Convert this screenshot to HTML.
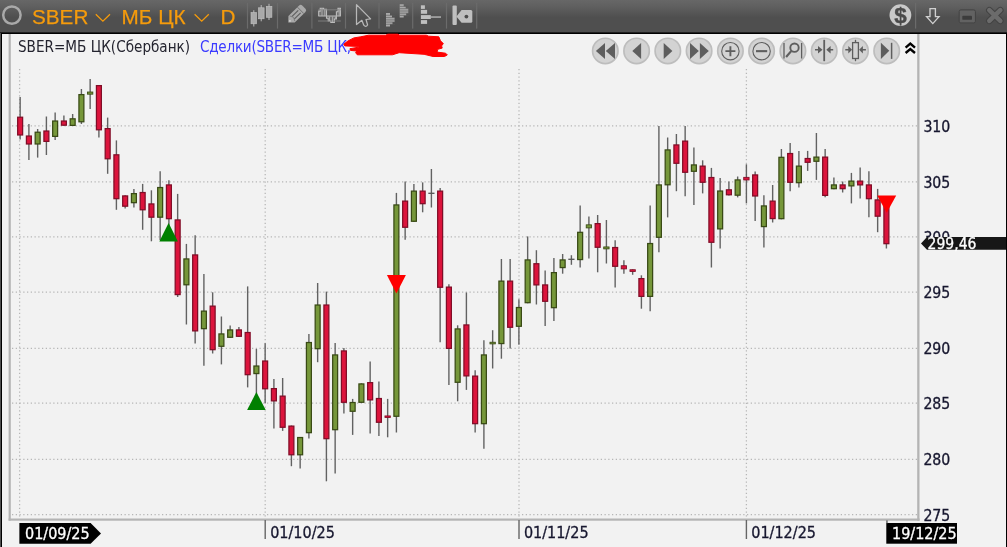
<!DOCTYPE html>
<html><head><meta charset="utf-8"><title>SBER</title>
<style>
html,body{margin:0;padding:0;background:#f2f2f2;}
body{width:1007px;height:547px;position:relative;overflow:hidden;font-family:"Liberation Sans",sans-serif;}
#bar{position:absolute;left:0;top:0;width:1007px;height:33.7px;background:linear-gradient(to bottom,#676767 0px,#5f5f5f 7px,#565656 13px,#4f4f4f 17.5px,#4f4f4f 31.9px,#2a2a2a 32.4px,#000 32.8px,#000 33.7px);}
#lb{position:absolute;left:0;top:32.8px;width:1.9px;height:515px;background:linear-gradient(to right,#4f4f4f 0px,#4f4f4f 0.8px,#000 0.9px,#000 1.9px);}
#rb{position:absolute;left:1006px;top:33px;width:1px;height:514px;background:#000;}
.t{position:absolute;white-space:nowrap;line-height:1;}
.o{-webkit-text-stroke:0.25px #f59b0c;color:#f59b0c;font-size:20.7px;top:6.5px;}
.s{font-family:"DejaVu Sans Condensed","DejaVu Sans","Liberation Sans",sans-serif;font-stretch:condensed;font-size:15.1px;top:39.5px;}
svg{position:absolute;left:0;top:0;}
</style></head><body>
<div id="bar"></div>
<svg width="1007" height="547" viewBox="0 0 1007 547">
<line x1="12" y1="125.90" x2="917" y2="125.90" stroke="#b6b6b6" stroke-width="1.25" stroke-dasharray="1.25 2.5"/>
<line x1="12" y1="181.90" x2="917" y2="181.90" stroke="#b6b6b6" stroke-width="1.25" stroke-dasharray="1.25 2.5"/>
<line x1="12" y1="236.90" x2="917" y2="236.90" stroke="#b6b6b6" stroke-width="1.25" stroke-dasharray="1.25 2.5"/>
<line x1="12" y1="292.00" x2="917" y2="292.00" stroke="#b6b6b6" stroke-width="1.25" stroke-dasharray="1.25 2.5"/>
<line x1="12" y1="348.40" x2="917" y2="348.40" stroke="#b6b6b6" stroke-width="1.25" stroke-dasharray="1.25 2.5"/>
<line x1="12" y1="403.20" x2="917" y2="403.20" stroke="#b6b6b6" stroke-width="1.25" stroke-dasharray="1.25 2.5"/>
<line x1="12" y1="459.40" x2="917" y2="459.40" stroke="#b6b6b6" stroke-width="1.25" stroke-dasharray="1.25 2.5"/>
<line x1="12" y1="514.60" x2="917" y2="514.60" stroke="#b6b6b6" stroke-width="1.25" stroke-dasharray="1.25 2.5"/>
<line x1="19.60" y1="69" x2="19.60" y2="519" stroke="#b6b6b6" stroke-width="1.25" stroke-dasharray="1.25 2.5"/>
<line x1="265.20" y1="69" x2="265.20" y2="519" stroke="#b6b6b6" stroke-width="1.25" stroke-dasharray="1.25 2.5"/>
<line x1="519.00" y1="69" x2="519.00" y2="519" stroke="#b6b6b6" stroke-width="1.25" stroke-dasharray="1.25 2.5"/>
<line x1="746.40" y1="69" x2="746.40" y2="519" stroke="#b6b6b6" stroke-width="1.25" stroke-dasharray="1.25 2.5"/>
<line x1="20.15" y1="97.0" x2="20.15" y2="139.6" stroke="#626262" stroke-width="1.4"/>
<rect x="17.67" y="117.22" width="4.95" height="17.75" fill="#dc143c" stroke="#800d27" stroke-width="1.25"/>
<line x1="28.90" y1="124.0" x2="28.90" y2="160.0" stroke="#626262" stroke-width="1.4"/>
<rect x="26.42" y="136.03" width="4.95" height="7.95" fill="#dc143c" stroke="#800d27" stroke-width="1.25"/>
<line x1="37.65" y1="129.0" x2="37.65" y2="157.6" stroke="#626262" stroke-width="1.4"/>
<rect x="35.17" y="132.22" width="4.95" height="11.75" fill="#76973a" stroke="#394a15" stroke-width="1.25"/>
<line x1="46.40" y1="116.5" x2="46.40" y2="155.0" stroke="#626262" stroke-width="1.4"/>
<rect x="43.92" y="131.03" width="4.95" height="10.35" fill="#dc143c" stroke="#800d27" stroke-width="1.25"/>
<line x1="55.15" y1="112.6" x2="55.15" y2="140.0" stroke="#626262" stroke-width="1.4"/>
<rect x="52.67" y="121.03" width="4.95" height="15.35" fill="#76973a" stroke="#394a15" stroke-width="1.25"/>
<line x1="63.90" y1="115.4" x2="63.90" y2="125.8" stroke="#626262" stroke-width="1.4"/>
<rect x="61.42" y="121.03" width="4.95" height="4.15" fill="#dc143c" stroke="#800d27" stroke-width="1.25"/>
<line x1="72.65" y1="114.0" x2="72.65" y2="126.0" stroke="#626262" stroke-width="1.4"/>
<rect x="70.18" y="118.83" width="4.95" height="6.55" fill="#76973a" stroke="#394a15" stroke-width="1.25"/>
<line x1="81.40" y1="89.0" x2="81.40" y2="124.0" stroke="#626262" stroke-width="1.4"/>
<rect x="78.93" y="94.62" width="4.95" height="27.15" fill="#76973a" stroke="#394a15" stroke-width="1.25"/>
<line x1="90.15" y1="79.0" x2="90.15" y2="109.0" stroke="#626262" stroke-width="1.4"/>
<rect x="87.48" y="92.02" width="5.35" height="2.15" fill="#76973a" stroke="#394a15" stroke-width="0.85"/>
<line x1="98.90" y1="85.0" x2="98.90" y2="137.6" stroke="#626262" stroke-width="1.4"/>
<rect x="96.43" y="85.62" width="4.95" height="44.15" fill="#dc143c" stroke="#800d27" stroke-width="1.25"/>
<line x1="107.65" y1="117.6" x2="107.65" y2="173.8" stroke="#626262" stroke-width="1.4"/>
<rect x="105.18" y="128.62" width="4.95" height="30.15" fill="#dc143c" stroke="#800d27" stroke-width="1.25"/>
<line x1="116.40" y1="140.4" x2="116.40" y2="209.8" stroke="#626262" stroke-width="1.4"/>
<rect x="113.93" y="154.82" width="4.95" height="43.85" fill="#dc143c" stroke="#800d27" stroke-width="1.25"/>
<line x1="125.15" y1="195.3" x2="125.15" y2="208.4" stroke="#626262" stroke-width="1.4"/>
<rect x="122.68" y="195.93" width="4.95" height="10.25" fill="#dc143c" stroke="#800d27" stroke-width="1.25"/>
<line x1="133.90" y1="188.9" x2="133.90" y2="207.4" stroke="#626262" stroke-width="1.4"/>
<rect x="131.43" y="193.62" width="4.95" height="9.05" fill="#76973a" stroke="#394a15" stroke-width="1.25"/>
<line x1="142.65" y1="183.9" x2="142.65" y2="229.8" stroke="#626262" stroke-width="1.4"/>
<rect x="140.18" y="192.53" width="4.95" height="17.25" fill="#dc143c" stroke="#800d27" stroke-width="1.25"/>
<line x1="151.40" y1="190.3" x2="151.40" y2="241.3" stroke="#626262" stroke-width="1.4"/>
<rect x="148.93" y="203.93" width="4.95" height="13.25" fill="#dc143c" stroke="#800d27" stroke-width="1.25"/>
<line x1="160.15" y1="171.3" x2="160.15" y2="240.0" stroke="#626262" stroke-width="1.4"/>
<rect x="157.68" y="187.53" width="4.95" height="29.65" fill="#76973a" stroke="#394a15" stroke-width="1.25"/>
<line x1="168.90" y1="180.3" x2="168.90" y2="226.0" stroke="#626262" stroke-width="1.4"/>
<rect x="166.43" y="184.93" width="4.95" height="33.75" fill="#dc143c" stroke="#800d27" stroke-width="1.25"/>
<line x1="177.65" y1="193.9" x2="177.65" y2="297.0" stroke="#626262" stroke-width="1.4"/>
<rect x="175.18" y="219.93" width="4.95" height="74.65" fill="#dc143c" stroke="#800d27" stroke-width="1.25"/>
<line x1="186.40" y1="243.9" x2="186.40" y2="324.5" stroke="#626262" stroke-width="1.4"/>
<rect x="183.93" y="258.93" width="4.95" height="25.85" fill="#76973a" stroke="#394a15" stroke-width="1.25"/>
<line x1="195.15" y1="235.3" x2="195.15" y2="343.5" stroke="#626262" stroke-width="1.4"/>
<rect x="192.68" y="254.93" width="4.95" height="75.95" fill="#dc143c" stroke="#800d27" stroke-width="1.25"/>
<line x1="203.90" y1="273.9" x2="203.90" y2="365.8" stroke="#626262" stroke-width="1.4"/>
<rect x="201.43" y="311.12" width="4.95" height="17.55" fill="#76973a" stroke="#394a15" stroke-width="1.25"/>
<line x1="212.65" y1="292.3" x2="212.65" y2="353.5" stroke="#626262" stroke-width="1.4"/>
<rect x="210.18" y="306.12" width="4.95" height="43.55" fill="#dc143c" stroke="#800d27" stroke-width="1.25"/>
<line x1="221.40" y1="316.5" x2="221.40" y2="364.4" stroke="#626262" stroke-width="1.4"/>
<rect x="218.93" y="333.93" width="4.95" height="12.35" fill="#76973a" stroke="#394a15" stroke-width="1.25"/>
<line x1="230.15" y1="325.5" x2="230.15" y2="337.9" stroke="#626262" stroke-width="1.4"/>
<rect x="227.68" y="329.93" width="4.95" height="7.35" fill="#76973a" stroke="#394a15" stroke-width="1.25"/>
<line x1="238.90" y1="326.9" x2="238.90" y2="336.9" stroke="#626262" stroke-width="1.4"/>
<rect x="236.43" y="329.93" width="4.95" height="6.35" fill="#dc143c" stroke="#800d27" stroke-width="1.25"/>
<line x1="247.65" y1="286.4" x2="247.65" y2="387.4" stroke="#626262" stroke-width="1.4"/>
<rect x="245.18" y="332.52" width="4.95" height="42.15" fill="#dc143c" stroke="#800d27" stroke-width="1.25"/>
<line x1="256.40" y1="348.9" x2="256.40" y2="395.0" stroke="#626262" stroke-width="1.4"/>
<rect x="253.92" y="366.02" width="4.95" height="7.55" fill="#76973a" stroke="#394a15" stroke-width="1.25"/>
<line x1="265.15" y1="343.3" x2="265.15" y2="403.0" stroke="#626262" stroke-width="1.4"/>
<rect x="262.67" y="361.02" width="4.95" height="27.75" fill="#dc143c" stroke="#800d27" stroke-width="1.25"/>
<line x1="273.90" y1="379.0" x2="273.90" y2="428.5" stroke="#626262" stroke-width="1.4"/>
<rect x="271.42" y="388.62" width="4.95" height="12.25" fill="#dc143c" stroke="#800d27" stroke-width="1.25"/>
<line x1="282.65" y1="378.0" x2="282.65" y2="430.9" stroke="#626262" stroke-width="1.4"/>
<rect x="280.17" y="396.12" width="4.95" height="31.15" fill="#dc143c" stroke="#800d27" stroke-width="1.25"/>
<line x1="291.40" y1="425.5" x2="291.40" y2="466.2" stroke="#626262" stroke-width="1.4"/>
<rect x="288.92" y="426.12" width="4.95" height="28.65" fill="#dc143c" stroke="#800d27" stroke-width="1.25"/>
<line x1="300.15" y1="436.9" x2="300.15" y2="468.6" stroke="#626262" stroke-width="1.4"/>
<rect x="297.67" y="437.52" width="4.95" height="17.25" fill="#76973a" stroke="#394a15" stroke-width="1.25"/>
<line x1="308.90" y1="333.9" x2="308.90" y2="438.5" stroke="#626262" stroke-width="1.4"/>
<rect x="306.42" y="342.52" width="4.95" height="90.15" fill="#76973a" stroke="#394a15" stroke-width="1.25"/>
<line x1="317.65" y1="283.0" x2="317.65" y2="362.2" stroke="#626262" stroke-width="1.4"/>
<rect x="315.17" y="305.02" width="4.95" height="43.65" fill="#76973a" stroke="#394a15" stroke-width="1.25"/>
<line x1="326.40" y1="291.6" x2="326.40" y2="481.3" stroke="#626262" stroke-width="1.4"/>
<rect x="323.92" y="305.02" width="4.95" height="133.65" fill="#dc143c" stroke="#800d27" stroke-width="1.25"/>
<line x1="335.15" y1="342.9" x2="335.15" y2="473.6" stroke="#626262" stroke-width="1.4"/>
<rect x="332.67" y="354.93" width="4.95" height="74.75" fill="#76973a" stroke="#394a15" stroke-width="1.25"/>
<line x1="343.90" y1="347.9" x2="343.90" y2="413.5" stroke="#626262" stroke-width="1.4"/>
<rect x="341.42" y="350.93" width="4.95" height="51.35" fill="#dc143c" stroke="#800d27" stroke-width="1.25"/>
<line x1="352.65" y1="398.9" x2="352.65" y2="434.9" stroke="#626262" stroke-width="1.4"/>
<rect x="350.17" y="402.52" width="4.95" height="8.75" fill="#76973a" stroke="#394a15" stroke-width="1.25"/>
<line x1="361.40" y1="383.3" x2="361.40" y2="402.9" stroke="#626262" stroke-width="1.4"/>
<rect x="358.92" y="383.93" width="4.95" height="18.35" fill="#76973a" stroke="#394a15" stroke-width="1.25"/>
<line x1="370.15" y1="361.4" x2="370.15" y2="433.5" stroke="#626262" stroke-width="1.4"/>
<rect x="367.67" y="382.62" width="4.95" height="17.25" fill="#dc143c" stroke="#800d27" stroke-width="1.25"/>
<line x1="378.90" y1="381.4" x2="378.90" y2="435.9" stroke="#626262" stroke-width="1.4"/>
<rect x="376.42" y="398.52" width="4.95" height="23.75" fill="#dc143c" stroke="#800d27" stroke-width="1.25"/>
<line x1="387.65" y1="398.9" x2="387.65" y2="437.3" stroke="#626262" stroke-width="1.4"/>
<rect x="384.97" y="415.93" width="5.35" height="1.55" fill="#dc143c" stroke="#800d27" stroke-width="0.85"/>
<line x1="396.40" y1="192.9" x2="396.40" y2="432.5" stroke="#626262" stroke-width="1.4"/>
<rect x="393.92" y="204.93" width="4.95" height="211.35" fill="#76973a" stroke="#394a15" stroke-width="1.25"/>
<line x1="405.15" y1="181.6" x2="405.15" y2="239.8" stroke="#626262" stroke-width="1.4"/>
<rect x="402.67" y="201.12" width="4.95" height="26.15" fill="#dc143c" stroke="#800d27" stroke-width="1.25"/>
<line x1="413.90" y1="184.0" x2="413.90" y2="221.9" stroke="#626262" stroke-width="1.4"/>
<rect x="411.42" y="191.12" width="4.95" height="30.15" fill="#76973a" stroke="#394a15" stroke-width="1.25"/>
<line x1="422.65" y1="182.4" x2="422.65" y2="212.3" stroke="#626262" stroke-width="1.4"/>
<rect x="420.17" y="191.12" width="4.95" height="12.55" fill="#dc143c" stroke="#800d27" stroke-width="1.25"/>
<line x1="431.40" y1="169.0" x2="431.40" y2="207.5" stroke="#626262" stroke-width="1.4"/>
<line x1="428.30" y1="193.3" x2="434.50" y2="193.3" stroke="#555" stroke-width="1.3"/>
<line x1="440.15" y1="188.0" x2="440.15" y2="342.2" stroke="#626262" stroke-width="1.4"/>
<rect x="437.67" y="191.12" width="4.95" height="96.15" fill="#dc143c" stroke="#800d27" stroke-width="1.25"/>
<line x1="448.90" y1="284.3" x2="448.90" y2="384.9" stroke="#626262" stroke-width="1.4"/>
<rect x="446.42" y="287.12" width="4.95" height="61.25" fill="#dc143c" stroke="#800d27" stroke-width="1.25"/>
<line x1="457.65" y1="325.3" x2="457.65" y2="401.3" stroke="#626262" stroke-width="1.4"/>
<rect x="455.17" y="328.93" width="4.95" height="53.35" fill="#76973a" stroke="#394a15" stroke-width="1.25"/>
<line x1="466.40" y1="292.5" x2="466.40" y2="389.9" stroke="#626262" stroke-width="1.4"/>
<rect x="463.92" y="324.93" width="4.95" height="50.95" fill="#dc143c" stroke="#800d27" stroke-width="1.25"/>
<line x1="475.15" y1="370.3" x2="475.15" y2="432.6" stroke="#626262" stroke-width="1.4"/>
<rect x="472.67" y="376.12" width="4.95" height="47.55" fill="#dc143c" stroke="#800d27" stroke-width="1.25"/>
<line x1="483.90" y1="340.2" x2="483.90" y2="448.8" stroke="#626262" stroke-width="1.4"/>
<rect x="481.42" y="354.93" width="4.95" height="68.75" fill="#76973a" stroke="#394a15" stroke-width="1.25"/>
<line x1="492.65" y1="330.2" x2="492.65" y2="368.5" stroke="#626262" stroke-width="1.4"/>
<rect x="489.97" y="342.23" width="5.35" height="1.65" fill="#76973a" stroke="#394a15" stroke-width="0.85"/>
<line x1="501.40" y1="259.0" x2="501.40" y2="358.7" stroke="#626262" stroke-width="1.4"/>
<rect x="498.92" y="281.12" width="4.95" height="62.45" fill="#76973a" stroke="#394a15" stroke-width="1.25"/>
<line x1="510.15" y1="259.0" x2="510.15" y2="348.4" stroke="#626262" stroke-width="1.4"/>
<rect x="507.67" y="281.12" width="4.95" height="46.15" fill="#dc143c" stroke="#800d27" stroke-width="1.25"/>
<line x1="518.90" y1="299.3" x2="518.90" y2="344.8" stroke="#626262" stroke-width="1.4"/>
<rect x="516.42" y="307.52" width="4.95" height="18.75" fill="#76973a" stroke="#394a15" stroke-width="1.25"/>
<line x1="527.65" y1="236.4" x2="527.65" y2="303.3" stroke="#626262" stroke-width="1.4"/>
<rect x="525.17" y="259.93" width="4.95" height="42.75" fill="#76973a" stroke="#394a15" stroke-width="1.25"/>
<line x1="536.40" y1="250.2" x2="536.40" y2="304.5" stroke="#626262" stroke-width="1.4"/>
<rect x="533.92" y="263.73" width="4.95" height="21.15" fill="#dc143c" stroke="#800d27" stroke-width="1.25"/>
<line x1="545.15" y1="270.4" x2="545.15" y2="325.9" stroke="#626262" stroke-width="1.4"/>
<rect x="542.67" y="284.93" width="4.95" height="16.35" fill="#dc143c" stroke="#800d27" stroke-width="1.25"/>
<line x1="553.90" y1="257.9" x2="553.90" y2="320.9" stroke="#626262" stroke-width="1.4"/>
<rect x="551.42" y="272.62" width="4.95" height="35.05" fill="#76973a" stroke="#394a15" stroke-width="1.25"/>
<line x1="562.65" y1="254.0" x2="562.65" y2="273.7" stroke="#626262" stroke-width="1.4"/>
<rect x="560.17" y="259.93" width="4.95" height="7.65" fill="#76973a" stroke="#394a15" stroke-width="1.25"/>
<line x1="571.40" y1="255.2" x2="571.40" y2="264.8" stroke="#626262" stroke-width="1.4"/>
<line x1="568.30" y1="259.3" x2="574.50" y2="259.3" stroke="#555" stroke-width="1.3"/>
<line x1="580.15" y1="205.4" x2="580.15" y2="267.5" stroke="#626262" stroke-width="1.4"/>
<rect x="577.67" y="232.32" width="4.95" height="27.25" fill="#76973a" stroke="#394a15" stroke-width="1.25"/>
<line x1="588.90" y1="216.4" x2="588.90" y2="258.5" stroke="#626262" stroke-width="1.4"/>
<rect x="586.22" y="224.83" width="5.35" height="3.05" fill="#76973a" stroke="#394a15" stroke-width="0.85"/>
<line x1="597.65" y1="215.0" x2="597.65" y2="272.3" stroke="#626262" stroke-width="1.4"/>
<rect x="595.17" y="223.62" width="4.95" height="23.65" fill="#dc143c" stroke="#800d27" stroke-width="1.25"/>
<line x1="606.40" y1="220.0" x2="606.40" y2="263.5" stroke="#626262" stroke-width="1.4"/>
<rect x="603.72" y="246.93" width="5.35" height="1.95" fill="#76973a" stroke="#394a15" stroke-width="0.85"/>
<line x1="615.15" y1="240.3" x2="615.15" y2="287.5" stroke="#626262" stroke-width="1.4"/>
<rect x="612.67" y="247.53" width="4.95" height="18.75" fill="#dc143c" stroke="#800d27" stroke-width="1.25"/>
<line x1="623.90" y1="260.3" x2="623.90" y2="273.7" stroke="#626262" stroke-width="1.4"/>
<rect x="621.22" y="265.73" width="5.35" height="3.15" fill="#dc143c" stroke="#800d27" stroke-width="0.85"/>
<line x1="632.65" y1="269.3" x2="632.65" y2="274.8" stroke="#626262" stroke-width="1.4"/>
<rect x="629.97" y="269.73" width="5.35" height="1.75" fill="#dc143c" stroke="#800d27" stroke-width="0.85"/>
<line x1="641.40" y1="275.3" x2="641.40" y2="308.7" stroke="#626262" stroke-width="1.4"/>
<rect x="638.92" y="278.62" width="4.95" height="17.75" fill="#dc143c" stroke="#800d27" stroke-width="1.25"/>
<line x1="650.15" y1="205.4" x2="650.15" y2="311.2" stroke="#626262" stroke-width="1.4"/>
<rect x="647.67" y="243.53" width="4.95" height="52.85" fill="#76973a" stroke="#394a15" stroke-width="1.25"/>
<line x1="658.90" y1="126.0" x2="658.90" y2="252.3" stroke="#626262" stroke-width="1.4"/>
<rect x="656.42" y="184.93" width="4.95" height="52.35" fill="#76973a" stroke="#394a15" stroke-width="1.25"/>
<line x1="667.65" y1="137.5" x2="667.65" y2="217.4" stroke="#626262" stroke-width="1.4"/>
<rect x="665.17" y="149.93" width="4.95" height="34.85" fill="#76973a" stroke="#394a15" stroke-width="1.25"/>
<line x1="676.40" y1="134.0" x2="676.40" y2="191.2" stroke="#626262" stroke-width="1.4"/>
<rect x="673.92" y="144.93" width="4.95" height="18.35" fill="#dc143c" stroke="#800d27" stroke-width="1.25"/>
<line x1="685.15" y1="126.0" x2="685.15" y2="196.2" stroke="#626262" stroke-width="1.4"/>
<rect x="682.67" y="141.12" width="4.95" height="31.15" fill="#dc143c" stroke="#800d27" stroke-width="1.25"/>
<line x1="693.90" y1="147.5" x2="693.90" y2="204.9" stroke="#626262" stroke-width="1.4"/>
<rect x="691.42" y="164.93" width="4.95" height="6.35" fill="#76973a" stroke="#394a15" stroke-width="1.25"/>
<line x1="702.65" y1="160.3" x2="702.65" y2="193.4" stroke="#626262" stroke-width="1.4"/>
<rect x="700.17" y="166.12" width="4.95" height="16.15" fill="#dc143c" stroke="#800d27" stroke-width="1.25"/>
<line x1="711.40" y1="167.9" x2="711.40" y2="267.5" stroke="#626262" stroke-width="1.4"/>
<rect x="708.92" y="177.53" width="4.95" height="64.75" fill="#dc143c" stroke="#800d27" stroke-width="1.25"/>
<line x1="720.15" y1="177.9" x2="720.15" y2="248.5" stroke="#626262" stroke-width="1.4"/>
<rect x="717.67" y="191.03" width="4.95" height="37.85" fill="#76973a" stroke="#394a15" stroke-width="1.25"/>
<line x1="728.90" y1="181.5" x2="728.90" y2="195.4" stroke="#626262" stroke-width="1.4"/>
<rect x="726.42" y="189.82" width="4.95" height="4.95" fill="#dc143c" stroke="#800d27" stroke-width="1.25"/>
<line x1="737.65" y1="176.5" x2="737.65" y2="197.4" stroke="#626262" stroke-width="1.4"/>
<rect x="735.17" y="179.93" width="4.95" height="15.25" fill="#76973a" stroke="#394a15" stroke-width="1.25"/>
<line x1="746.40" y1="164.3" x2="746.40" y2="203.4" stroke="#626262" stroke-width="1.4"/>
<rect x="743.72" y="177.33" width="5.35" height="2.65" fill="#dc143c" stroke="#800d27" stroke-width="0.85"/>
<line x1="755.15" y1="171.4" x2="755.15" y2="221.1" stroke="#626262" stroke-width="1.4"/>
<rect x="752.67" y="174.93" width="4.95" height="21.05" fill="#dc143c" stroke="#800d27" stroke-width="1.25"/>
<line x1="763.90" y1="195.3" x2="763.90" y2="247.4" stroke="#626262" stroke-width="1.4"/>
<rect x="761.42" y="205.93" width="4.95" height="20.65" fill="#76973a" stroke="#394a15" stroke-width="1.25"/>
<line x1="772.65" y1="185.0" x2="772.65" y2="222.5" stroke="#626262" stroke-width="1.4"/>
<rect x="770.17" y="201.12" width="4.95" height="17.45" fill="#dc143c" stroke="#800d27" stroke-width="1.25"/>
<line x1="781.40" y1="149.0" x2="781.40" y2="219.3" stroke="#626262" stroke-width="1.4"/>
<rect x="778.92" y="157.32" width="4.95" height="61.35" fill="#76973a" stroke="#394a15" stroke-width="1.25"/>
<line x1="790.15" y1="143.0" x2="790.15" y2="191.3" stroke="#626262" stroke-width="1.4"/>
<rect x="787.67" y="153.53" width="4.95" height="28.75" fill="#dc143c" stroke="#800d27" stroke-width="1.25"/>
<line x1="798.90" y1="151.0" x2="798.90" y2="187.5" stroke="#626262" stroke-width="1.4"/>
<rect x="796.42" y="166.12" width="4.95" height="16.55" fill="#76973a" stroke="#394a15" stroke-width="1.25"/>
<line x1="807.65" y1="150.9" x2="807.65" y2="170.9" stroke="#626262" stroke-width="1.4"/>
<rect x="805.17" y="158.53" width="4.95" height="3.75" fill="#dc143c" stroke="#800d27" stroke-width="1.25"/>
<line x1="816.40" y1="133.0" x2="816.40" y2="179.9" stroke="#626262" stroke-width="1.4"/>
<rect x="813.92" y="157.12" width="4.95" height="4.15" fill="#76973a" stroke="#394a15" stroke-width="1.25"/>
<line x1="825.15" y1="149.0" x2="825.15" y2="197.3" stroke="#626262" stroke-width="1.4"/>
<rect x="822.67" y="157.12" width="4.95" height="38.25" fill="#dc143c" stroke="#800d27" stroke-width="1.25"/>
<line x1="833.90" y1="177.5" x2="833.90" y2="189.3" stroke="#626262" stroke-width="1.4"/>
<rect x="831.42" y="184.93" width="4.95" height="3.75" fill="#76973a" stroke="#394a15" stroke-width="1.25"/>
<line x1="842.65" y1="181.5" x2="842.65" y2="192.5" stroke="#626262" stroke-width="1.4"/>
<rect x="840.17" y="184.93" width="4.95" height="3.75" fill="#dc143c" stroke="#800d27" stroke-width="1.25"/>
<line x1="851.40" y1="172.9" x2="851.40" y2="203.4" stroke="#626262" stroke-width="1.4"/>
<rect x="848.92" y="181.12" width="4.95" height="4.75" fill="#76973a" stroke="#394a15" stroke-width="1.25"/>
<line x1="860.15" y1="167.5" x2="860.15" y2="198.5" stroke="#626262" stroke-width="1.4"/>
<rect x="857.67" y="181.12" width="4.95" height="3.75" fill="#dc143c" stroke="#800d27" stroke-width="1.25"/>
<line x1="868.90" y1="171.3" x2="868.90" y2="217.2" stroke="#626262" stroke-width="1.4"/>
<rect x="866.42" y="184.93" width="4.95" height="13.75" fill="#dc143c" stroke="#800d27" stroke-width="1.25"/>
<line x1="877.65" y1="188.9" x2="877.65" y2="232.2" stroke="#626262" stroke-width="1.4"/>
<rect x="875.17" y="199.93" width="4.95" height="16.25" fill="#dc143c" stroke="#800d27" stroke-width="1.25"/>
<line x1="886.40" y1="196.0" x2="886.40" y2="248.5" stroke="#626262" stroke-width="1.4"/>
<rect x="883.92" y="205.62" width="4.95" height="38.05" fill="#dc143c" stroke="#800d27" stroke-width="1.25"/>
<polygon points="168.6,223.0 159.3,241.4 177.9,241.4" fill="#008000"/>
<polygon points="256.4,392.0 247.1,410.0 265.7,410.0" fill="#008000"/>
<polygon points="386.9,275.0 405.9,275.0 396.4,293.6" fill="#ff0000"/>
<polygon points="877.2,195.5 896.2,195.5 886.7,212.8" fill="#ff0000"/>
<rect x="8.6" y="34" width="2.2" height="486.6" fill="#b4b4b4"/>
<rect x="8.6" y="518.5" width="911" height="2.2" fill="#b4b4b4"/>
<rect x="917.2" y="34" width="2.3" height="486.6" fill="#b4b4b4"/>
<rect x="264.50" y="520" width="1.4" height="19" fill="#666"/>
<rect x="518.30" y="520" width="1.4" height="19" fill="#666"/>
<rect x="745.70" y="520" width="1.4" height="19" fill="#666"/>
<text x="270.2" y="538" font-family="DejaVu Sans Condensed, DejaVu Sans, Liberation Sans, sans-serif" font-stretch="condensed" stroke-width="0.3" font-size="16" fill="#17172f" stroke="#17172f">01/10/25</text>
<text x="523.9" y="538" font-family="DejaVu Sans Condensed, DejaVu Sans, Liberation Sans, sans-serif" font-stretch="condensed" stroke-width="0.3" font-size="16" fill="#17172f" stroke="#17172f">01/11/25</text>
<text x="751.3" y="538" font-family="DejaVu Sans Condensed, DejaVu Sans, Liberation Sans, sans-serif" font-stretch="condensed" stroke-width="0.3" font-size="16" fill="#17172f" stroke="#17172f">01/12/25</text>
<text x="923.4" y="131.5" font-family="DejaVu Sans Condensed, DejaVu Sans, Liberation Sans, sans-serif" font-stretch="condensed" stroke-width="0.3" font-size="15.7" fill="#17172f" stroke="#17172f">310</text>
<text x="923.4" y="187.5" font-family="DejaVu Sans Condensed, DejaVu Sans, Liberation Sans, sans-serif" font-stretch="condensed" stroke-width="0.3" font-size="15.7" fill="#17172f" stroke="#17172f">305</text>
<text x="923.4" y="242.5" font-family="DejaVu Sans Condensed, DejaVu Sans, Liberation Sans, sans-serif" font-stretch="condensed" stroke-width="0.3" font-size="15.7" fill="#17172f" stroke="#17172f">300</text>
<text x="923.4" y="297.6" font-family="DejaVu Sans Condensed, DejaVu Sans, Liberation Sans, sans-serif" font-stretch="condensed" stroke-width="0.3" font-size="15.7" fill="#17172f" stroke="#17172f">295</text>
<text x="923.4" y="354.0" font-family="DejaVu Sans Condensed, DejaVu Sans, Liberation Sans, sans-serif" font-stretch="condensed" stroke-width="0.3" font-size="15.7" fill="#17172f" stroke="#17172f">290</text>
<text x="923.4" y="408.8" font-family="DejaVu Sans Condensed, DejaVu Sans, Liberation Sans, sans-serif" font-stretch="condensed" stroke-width="0.3" font-size="15.7" fill="#17172f" stroke="#17172f">285</text>
<text x="923.4" y="465.0" font-family="DejaVu Sans Condensed, DejaVu Sans, Liberation Sans, sans-serif" font-stretch="condensed" stroke-width="0.3" font-size="15.7" fill="#17172f" stroke="#17172f">280</text>
<text x="923.4" y="520.8" font-family="DejaVu Sans Condensed, DejaVu Sans, Liberation Sans, sans-serif" font-stretch="condensed" stroke-width="0.3" font-size="15.7" fill="#17172f" stroke="#17172f">275</text>
<polygon points="921,243.4 927,236.9 1007,236.9 1007,249.8 927,249.8" fill="#171717"/>
<text x="927.6" y="249.4" font-family="DejaVu Sans Condensed, DejaVu Sans, Liberation Sans, sans-serif" font-stretch="condensed" stroke-width="0.3" font-size="15.5" fill="#ffffff" stroke="#fff">299,46</text>
<polygon points="19.4,523 90.6,523 101,533.4 90.6,543.7 19.4,543.7" fill="#000"/>
<text x="25" y="539" font-family="DejaVu Sans Condensed, DejaVu Sans, Liberation Sans, sans-serif" font-stretch="condensed" stroke-width="0.3" font-size="16" fill="#fff" stroke="#fff">01/09/25</text>
<rect x="886.3" y="523" width="70.7" height="20.7" fill="#000"/>
<rect x="886.3" y="520.4" width="1.3" height="3" fill="#555"/>
<text x="892" y="539" font-family="DejaVu Sans Condensed, DejaVu Sans, Liberation Sans, sans-serif" font-stretch="condensed" stroke-width="0.3" font-size="16" fill="#fff" stroke="#fff">19/12/25</text>
<circle cx="605.3" cy="50.95" r="12.7" fill="#d3d3d3" stroke="#bdbdbd" stroke-width="1.7"/>
<circle cx="636.6" cy="50.95" r="12.7" fill="#d3d3d3" stroke="#bdbdbd" stroke-width="1.7"/>
<circle cx="667.8" cy="50.95" r="12.7" fill="#d3d3d3" stroke="#bdbdbd" stroke-width="1.7"/>
<circle cx="699.1" cy="50.95" r="12.7" fill="#d3d3d3" stroke="#bdbdbd" stroke-width="1.7"/>
<circle cx="730.4" cy="50.95" r="12.7" fill="#d3d3d3" stroke="#bdbdbd" stroke-width="1.7"/>
<circle cx="761.6" cy="50.95" r="12.7" fill="#d3d3d3" stroke="#bdbdbd" stroke-width="1.7"/>
<circle cx="792.9" cy="50.95" r="12.7" fill="#d3d3d3" stroke="#bdbdbd" stroke-width="1.7"/>
<circle cx="824.2" cy="50.95" r="12.7" fill="#d3d3d3" stroke="#bdbdbd" stroke-width="1.7"/>
<circle cx="855.5" cy="50.95" r="12.7" fill="#d3d3d3" stroke="#bdbdbd" stroke-width="1.7"/>
<circle cx="886.7" cy="50.95" r="12.7" fill="#d3d3d3" stroke="#bdbdbd" stroke-width="1.7"/>
<polygon points="595.9,50.95 605.0,42.95 605.0,58.95" fill="#5e5e5e"/>
<polygon points="605.8,50.95 615.0,42.95 615.0,58.95" fill="#5e5e5e"/>
<polygon points="632.3,50.95 641.1,42.95 641.1,58.95" fill="#5e5e5e"/>
<polygon points="672.4,50.95 663.7,42.95 663.7,58.95" fill="#5e5e5e"/>
<polygon points="698.8,50.95 690.0,42.95 690.0,58.95" fill="#5e5e5e"/>
<polygon points="708.8,50.95 699.9,42.95 699.9,58.95" fill="#5e5e5e"/>
<circle cx="730.4" cy="51.150000000000006" r="8.7" fill="none" stroke="#5e5e5e" stroke-width="1.1"/>
<path d="M725.4 51.150000000000006H735.4M730.4 46.150000000000006V56.150000000000006" stroke="#5e5e5e" stroke-width="1.9" fill="none"/>
<circle cx="761.6" cy="51.150000000000006" r="8.7" fill="none" stroke="#5e5e5e" stroke-width="1.1"/>
<path d="M756.0 51.150000000000006H767.2" stroke="#5e5e5e" stroke-width="2.1" fill="none"/>
<path d="M784.0 43V58.6M801.6 43V58.6" stroke="#5e5e5e" stroke-width="1.3" fill="none"/>
<circle cx="794.5" cy="47.7" r="4.2" fill="none" stroke="#5e5e5e" stroke-width="1.9"/>
<path d="M791.3 51L786.1 57" stroke="#5e5e5e" stroke-width="2.1" fill="none"/>
<path d="M824.2 39.8V61.2" stroke="#5e5e5e" stroke-width="1.8" fill="none"/>
<path d="M815.0 49.75H819.2M833.2 49.75H829.2" stroke="#5e5e5e" stroke-width="1.6" fill="none"/>
<polygon points="822.5,49.75 818.0,46.05 818.0,53.45" fill="#5e5e5e"/><polygon points="826.3,49.75 830.6,46.05 830.6,53.45" fill="#5e5e5e"/>
<path d="M855.5 39.8V61.2" stroke="#5e5e5e" stroke-width="1.3" fill="none"/>
<rect x="852.6" y="42.6" width="5.8" height="15.9" fill="#d3d3d3" stroke="#5e5e5e" stroke-width="1.3"/>
<path d="M845.3 49.75H849.5M865.9 49.75H861.5" stroke="#5e5e5e" stroke-width="1.6" fill="none"/>
<polygon points="852.1,49.75 848.3,46.05 848.3,53.45" fill="#5e5e5e"/><polygon points="859.1,49.75 862.9,46.05 862.9,53.45" fill="#5e5e5e"/>
<polygon points="880.9,42.8 880.9,58.9 889.3,50.85" fill="#5e5e5e"/>
<path d="M891.6 42.8V58.9" stroke="#5e5e5e" stroke-width="1.5" fill="none"/>
<path d="M905.6 47.6L910.3 43.6L915 47.6M905.6 53L910.3 49L915 53" stroke="#000" stroke-width="2.4" fill="none"/>
<rect x="246.9" y="2.8" width="1.2" height="25.8" fill="#6b6b6b"/>
<rect x="276.9" y="2.8" width="1.2" height="25.8" fill="#6b6b6b"/>
<rect x="311.29999999999995" y="2.8" width="1.2" height="25.8" fill="#6b6b6b"/>
<rect x="344.9" y="2.8" width="1.2" height="25.8" fill="#6b6b6b"/>
<rect x="378.4" y="2.8" width="1.2" height="25.8" fill="#6b6b6b"/>
<rect x="412.09999999999997" y="2.8" width="1.2" height="25.8" fill="#6b6b6b"/>
<rect x="445.9" y="2.8" width="1.2" height="25.8" fill="#6b6b6b"/>
<rect x="476.09999999999997" y="2.8" width="1.2" height="25.8" fill="#6b6b6b"/>
<rect x="915.0" y="2.8" width="1.2" height="25.8" fill="#6b6b6b"/>
<circle cx="11.9" cy="15.1" r="8.7" fill="none" stroke="#a9a9a9" stroke-width="2.5"/>
<path d="M95.8 14.2L102.9 21.2L110 14.2" stroke="#f59b0c" stroke-width="1.3" fill="none"/>
<path d="M194.6 14.2L201.7 21.2L208.8 14.2" stroke="#f59b0c" stroke-width="1.3" fill="none"/>
<rect x="253.15" y="10.2" width="1.2" height="16.3" fill="#a9a9a9"/><rect x="251" y="12.5" width="5.6" height="11.3" fill="#a9a9a9" stroke="#c3c3c3" stroke-width="0.6"/>
<rect x="260.65" y="5" width="1.2" height="16.3" fill="#a9a9a9"/><rect x="258.5" y="7.8" width="5.6" height="11" fill="#a9a9a9" stroke="#c3c3c3" stroke-width="0.6"/>
<rect x="268.4" y="3.8" width="1.2" height="16.2" fill="#a9a9a9"/><rect x="266.3" y="6.3" width="5.6" height="11" fill="#a9a9a9" stroke="#c3c3c3" stroke-width="0.6"/>
<g transform="translate(288.3,22.5) rotate(-44.5)"><path d="M0 0L4.6 -4.5H19.6Q21.8 -4.5 21.8 -2.3V2.3Q21.8 4.5 19.6 4.5H4.6Z" fill="#a9a9a9"/><path d="M6.6 -1.7H15.6M6.6 1.7H15.6" stroke="#5c5c5c" stroke-width="1.1"/><path d="M5.6 -3.6L7.4 0L5.6 3.6" stroke="#777" stroke-width="0.8" fill="none"/><path d="M17.3 -4.5V4.5" stroke="#6e6e6e" stroke-width="0.9"/><circle cx="2.3" cy="0" r="0.9" fill="#d8d8d8"/></g>
<path d="M318.7 16V11.1H320.2V8.2H323.6V9.2H326.5V18.3H328.2V21H330.8V22.4H334.4V19H336.4V11.8H338V8.2H340.4V16" stroke="#bdbdbd" stroke-width="1.1" fill="#8c8c8c" fill-opacity="0.55"/>
<path d="M318.3 9.8H340.8M318 21H340.8" stroke="#858585" stroke-width="0.9" fill="none"/><path d="M318.3 16H340.8" stroke="#b4b4b4" stroke-width="1.1" fill="none"/>
<path d="M322 8.8V16M324.8 9.5V16M329.5 16.5V21M332.6 16.5V22M335.4 16.5V19M339.2 9V16" stroke="#b0b0b0" stroke-width="0.9" fill="none"/>
<path d="M356.5 4.6V24.6L361.9 20.3L363.8 25.2Q365.8 27.6 367.6 25L366 19.5L370.6 18.9Z" stroke="#b8b8b8" stroke-width="1.25" fill="none" stroke-linejoin="round"/>
<path d="M386 13.1H390V15.3H392V17.5H394.6V22.1H392.5V24.299999999999997H390V26.5H386Z" fill="#a9a9a9"/>
<path d="M386 15.3H395M386 17.6H395M386 19.9H395M386 22.1H395M386 24.299999999999997H395" stroke="#5a5a5a" stroke-width="0.6"/>
<path d="M399.7 4.2H403.7V6.4H405.7V8.600000000000001H408.3V13.2H406.2V15.399999999999999H403.7V17.6H399.7Z" fill="#a9a9a9"/>
<path d="M399.7 6.4H408.7M399.7 8.7H408.7M399.7 11.0H408.7M399.7 13.2H408.7M399.7 15.399999999999999H408.7" stroke="#5a5a5a" stroke-width="0.6"/>
<rect x="420.9" y="5.3" width="4" height="3.6" fill="#bfbfbf"/><rect x="420.9" y="9.9" width="6.2" height="3.9" fill="#bfbfbf"/><rect x="420.9" y="15.1" width="9.9" height="3.9" fill="#bfbfbf"/><rect x="430" y="16.3" width="11" height="1.5" fill="#b0b0b0"/><rect x="420.9" y="20.1" width="6.2" height="3.8" fill="#bfbfbf"/>
<rect x="452.5" y="5.6" width="4.3" height="19.3" rx="1" fill="#bfbfbf"/>
<path d="M456.4 16.4L461.6 10H470.8Q472.3 10 472.3 11.5V21.3Q472.3 22.8 470.8 22.8H461.6Z" fill="#bfbfbf"/><circle cx="466.4" cy="16.6" r="1.9" fill="#4c4c4c"/>
<circle cx="900.4" cy="15.1" r="10.9" fill="#c9c9c9"/>
<text x="900.4" y="22.9" text-anchor="middle" font-family="Liberation Sans, sans-serif" font-weight="bold" font-size="22.5" fill="#4a4a4a" stroke="#4a4a4a" stroke-width="0.4">$</text>
<path d="M930 8.6H935.4V16.6H939L932.8 23.6L926.6 16.6H930Z" stroke="#d0d0d0" stroke-width="1.35" fill="none" stroke-linejoin="miter"/>
<rect x="959.2" y="9.9" width="16.2" height="13" rx="1.6" fill="#626262" stroke="#434343" stroke-width="1"/><rect x="962.3" y="15.8" width="9.7" height="4" rx="0.9" fill="#3c3c3c"/>
<path d="M989.3 10.2L1000.3 20.8M1000.3 10.2L989.3 20.8" stroke="#434343" stroke-width="6.6" fill="none" stroke-linecap="round"/>
<path d="M989.3 10.2L1000.3 20.8M1000.3 10.2L989.3 20.8" stroke="#6b6b6b" stroke-width="4.6" fill="none" stroke-linecap="round"/>
<path d="M343.7 44.2L348.2 40.8L353.9 37.9L360.7 36.8L368.6 35.2L385.6 35.2L387.8 34.2L398 34.2L399.7 35.2L426.3 35.2L428.6 36.2L438.8 36.8L440.5 40.8L443.3 43.6L441.6 45.9L442.2 48.1L437.7 49.3L437.1 52.1L445.6 53.2L447.3 54.9L444.5 56.5L433.1 56.5L424.1 54.3L399.2 52.7L392.4 54.8L357.3 54.8L355.6 52.7L356.7 51L350.5 50.4L349.9 48.7L358.4 47.2L358.4 46.4L344.8 45.9Z" fill="#ff0000" stroke="#ff0000" stroke-width="1" stroke-linejoin="round"/>
</svg>
<div id="lb"></div><div id="rb"></div>
<div class="t o" style="left:32px">SBER</div>
<div class="t o" style="left:121.6px">МБ ЦК</div>
<div class="t o" style="left:220.4px">D</div>
<div class="t s" style="left:18px;color:#24242f">SBER=МБ ЦК(Сбербанк)</div>
<div class="t s" style="left:200px;color:#3a3aff;letter-spacing:-0.25px">Сделки(SBER=МБ ЦК,</div>
</body></html>
